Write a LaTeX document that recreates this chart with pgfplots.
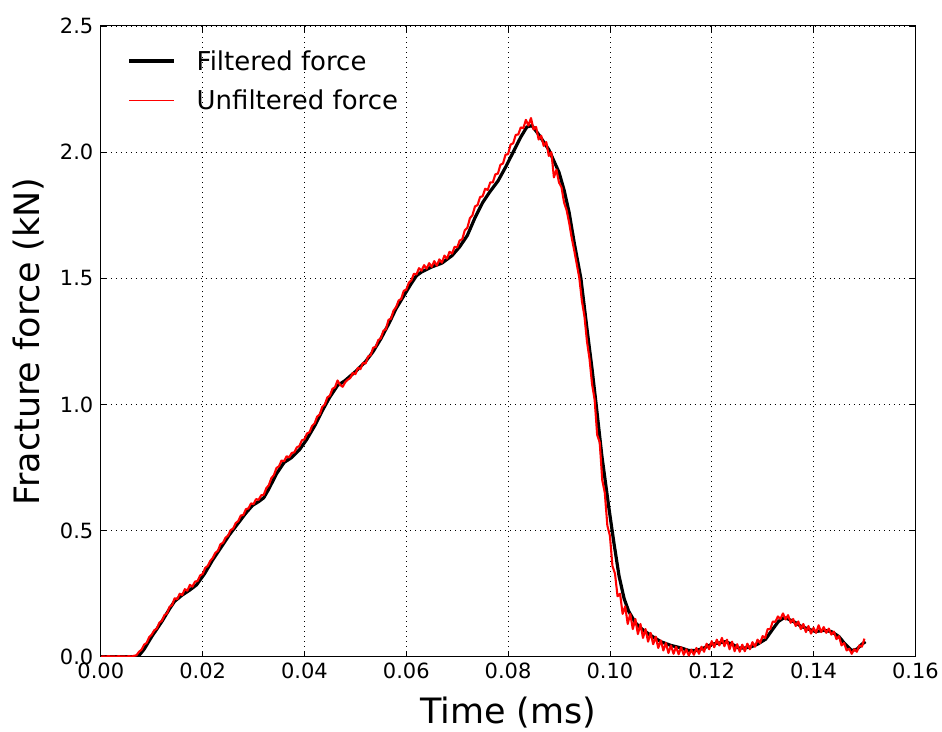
\documentclass[border=0pt]{standalone}
\usepackage{fontspec}
\setmainfont{DejaVu Sans}
\usepackage{pgfplots}
\pgfplotsset{compat=1.18}
\begin{document}
\begin{tikzpicture}
\begin{axis}[
  name=ax,
  scale only axis,
  width=816pt, height=632pt,
  xmin=0, xmax=0.16, ymin=0, ymax=2.5,
  xtick={0,0.02,0.04,0.06,0.08,0.10,0.12,0.14,0.16},
  ytick={0,0.5,1.0,1.5,2.0,2.5},
  scaled x ticks=false, scaled y ticks=false,
  xticklabel style={/pgf/number format/.cd, fixed, fixed zerofill, precision=2, assume math mode=true},
  yticklabel style={/pgf/number format/.cd, fixed, fixed zerofill, precision=1, assume math mode=true},
  tick label style={font=\fontsize{21}{25}\selectfont},
  xticklabel shift=3pt, yticklabel shift=4pt,
  tick align=inside, major tick length=6pt,
  tick style={black, line width=0.8pt},
  axis line style={black, line width=1.1pt},
  grid=major,
  major grid style={black, line width=0.7pt, dash pattern=on 1pt off 4pt},
  xlabel={Time (ms)}, ylabel={Fracture force (kN)},
  every axis x label/.style={at={(axis description cs:0.5,-0.106)}, anchor=base, font=\fontsize{35}{40}\selectfont},
  every axis y label/.style={at={(axis description cs:-0.0748,0.5)}, rotate=90, anchor=base, font=\fontsize{35}{40}\selectfont},
  legend cell align=left,
  legend style={draw=none, fill=none, at={(axis description cs:0.029,0.968)}, anchor=north west,
    font=\fontsize{26}{30}\selectfont, row sep=14pt, column sep=19pt,
    nodes={inner sep=2pt}},
  legend image code/.code={\draw[#1, line cap=butt] (0pt,0pt) -- (45pt,0pt);},
]
\addplot[black, line width=3.2pt, line join=round] coordinates {
(0,0) (0.0073,0) (0.0085,0.03) (0.010,0.08) (0.012,0.14) (0.0135,0.19) (0.0145,0.22)
(0.016,0.245) (0.0175,0.265) (0.0188,0.285) (0.0204,0.33) (0.022,0.385) (0.0235,0.43)
(0.0253,0.485) (0.027,0.53) (0.0285,0.57) (0.0298,0.60) (0.031,0.615) (0.032,0.63)
(0.033,0.665) (0.0345,0.725) (0.036,0.77) (0.0375,0.79) (0.039,0.82) (0.0404,0.86)
(0.042,0.915) (0.0435,0.975) (0.045,1.03) (0.0465,1.075) (0.048,1.095) (0.050,1.13)
(0.052,1.17) (0.0535,1.21) (0.055,1.26) (0.0567,1.325) (0.058,1.38) (0.0595,1.43)
(0.061,1.48) (0.062,1.51) (0.063,1.525) (0.065,1.545) (0.067,1.56) (0.069,1.59)
(0.0705,1.625) (0.072,1.67) (0.0735,1.74) (0.075,1.80) (0.0765,1.845) (0.078,1.885)
(0.0795,1.94) (0.081,2.00) (0.0825,2.06) (0.0837,2.10) (0.0847,2.105) (0.086,2.07)
(0.088,2.01) (0.090,1.92) (0.091,1.85) (0.092,1.76) (0.093,1.64) (0.0943,1.50)
(0.0955,1.30) (0.0965,1.14) (0.0973,1.00) (0.0984,0.80) (0.0998,0.59) (0.1008,0.45)
(0.1018,0.32) (0.1028,0.23) (0.1037,0.18) (0.1050,0.135) (0.1063,0.11) (0.108,0.085)
(0.110,0.06) (0.112,0.045) (0.114,0.035) (0.1155,0.025) (0.117,0.025) (0.1185,0.035)
(0.120,0.05) (0.1215,0.055) (0.1227,0.06) (0.124,0.05) (0.1253,0.035) (0.1265,0.035)
(0.1278,0.04) (0.129,0.05) (0.1306,0.07) (0.132,0.11) (0.1331,0.14) (0.1342,0.155)
(0.135,0.15) (0.1365,0.135) (0.1376,0.12) (0.139,0.11) (0.1404,0.10) (0.142,0.105)
(0.1435,0.10) (0.145,0.08) (0.146,0.055) (0.1475,0.025) (0.1485,0.03) (0.1495,0.05)
(0.1502,0.06)
};
\addlegendentry{Filtered force}
\addplot[red, line width=2.1pt, line join=round, legend image post style={line width=0.8pt}] coordinates {
(0.0000,0.000) (0.0005,0.002) (0.0010,0.000) (0.0015,0.003) (0.0020,0.001) (0.0025,0.002)
(0.0030,0.000) (0.0035,0.003) (0.0040,0.001) (0.0045,0.002) (0.0050,0.000) (0.0055,0.003)
(0.0060,0.001) (0.0065,0.004) (0.0070,0.006) (0.0075,0.020) (0.0080,0.028) (0.0085,0.048)
(0.0090,0.055) (0.0095,0.078) (0.0100,0.088) (0.0105,0.105) (0.0110,0.112) (0.0115,0.135)
(0.0120,0.143) (0.0125,0.165) (0.0130,0.172) (0.0135,0.198) (0.0140,0.205) (0.0145,0.232)
(0.0150,0.228) (0.0155,0.250) (0.0160,0.245) (0.0165,0.268) (0.0170,0.262) (0.0175,0.285)
(0.0180,0.278) (0.0185,0.298) (0.0190,0.300) (0.0195,0.322) (0.0200,0.328) (0.0205,0.352)
(0.0210,0.360) (0.0215,0.380) (0.0220,0.392) (0.0225,0.412) (0.0230,0.420) (0.0235,0.446)
(0.0240,0.452) (0.0245,0.472) (0.0250,0.480) (0.0255,0.502) (0.0260,0.508) (0.0265,0.530)
(0.0270,0.538) (0.0275,0.560) (0.0280,0.562) (0.0285,0.585) (0.0290,0.588) (0.0295,0.608)
(0.0300,0.605) (0.0305,0.625) (0.0310,0.622) (0.0315,0.640) (0.0320,0.642) (0.0325,0.668)
(0.0330,0.680) (0.0335,0.708) (0.0340,0.720) (0.0345,0.748) (0.0350,0.755) (0.0355,0.778)
(0.0360,0.775) (0.0365,0.795) (0.0370,0.790) (0.0375,0.808) (0.0380,0.810) (0.0385,0.830)
(0.0390,0.835) (0.0395,0.858) (0.0400,0.862) (0.0405,0.885) (0.0410,0.890) (0.0415,0.915)
(0.0420,0.925) (0.0425,0.952) (0.0430,0.960) (0.0435,0.990) (0.0440,1.000) (0.0445,1.028)
(0.0450,1.035) (0.0455,1.062) (0.0460,1.068) (0.0465,1.095) (0.0470,1.078) (0.0475,1.070)
(0.0480,1.088) (0.0485,1.098) (0.0490,1.105) (0.0495,1.125) (0.0500,1.120) (0.0505,1.145)
(0.0510,1.140) (0.0515,1.165) (0.0520,1.162) (0.0525,1.190) (0.0530,1.195) (0.0535,1.225)
(0.0540,1.228) (0.0545,1.255) (0.0550,1.262) (0.0555,1.292) (0.0560,1.298) (0.0565,1.335)
(0.0570,1.340) (0.0575,1.372) (0.0580,1.385) (0.0585,1.412) (0.0590,1.418) (0.0595,1.450)
(0.0600,1.455) (0.0605,1.482) (0.0610,1.492) (0.0615,1.518) (0.0620,1.515) (0.0625,1.540)
(0.0630,1.530) (0.0635,1.552) (0.0640,1.538) (0.0645,1.560) (0.0650,1.545) (0.0655,1.568)
(0.0660,1.550) (0.0665,1.575) (0.0670,1.562) (0.0675,1.590) (0.0680,1.578) (0.0685,1.605)
(0.0690,1.598) (0.0695,1.625) (0.0700,1.622) (0.0705,1.650) (0.0710,1.655) (0.0715,1.690)
(0.0720,1.700) (0.0725,1.738) (0.0730,1.750) (0.0735,1.785) (0.0740,1.790) (0.0745,1.822)
(0.0750,1.825) (0.0755,1.855) (0.0760,1.850) (0.0765,1.880) (0.0770,1.880) (0.0775,1.912)
(0.0780,1.915) (0.0785,1.950) (0.0790,1.955) (0.0795,1.990) (0.0800,1.992) (0.0805,2.030)
(0.0810,2.035) (0.0815,2.068) (0.0820,2.070) (0.0825,2.098) (0.0830,2.095) (0.0835,2.128)
(0.0840,2.105) (0.0845,2.135) (0.0850,2.090) (0.0855,2.100) (0.0860,2.050) (0.0865,2.065)
(0.0870,2.025) (0.0875,2.040) (0.0880,1.985) (0.0885,2.000) (0.0890,1.900) (0.0895,1.930)
(0.0900,1.880) (0.0905,1.860) (0.0910,1.800) (0.0915,1.770) (0.0920,1.720) (0.0925,1.660)
(0.0930,1.610) (0.0935,1.555) (0.0940,1.500) (0.0945,1.410) (0.0950,1.350) (0.0955,1.250)
(0.0960,1.180) (0.0965,1.080) (0.0970,1.020) (0.0975,0.880) (0.0980,0.850) (0.0985,0.700)
(0.0990,0.650) (0.0995,0.520) (0.1000,0.480) (0.1005,0.360) (0.1010,0.330) (0.1015,0.240)
(0.1020,0.250) (0.1025,0.170) (0.1030,0.200) (0.1035,0.130) (0.1040,0.170) (0.1045,0.110)
(0.1050,0.150) (0.1055,0.090) (0.1060,0.130) (0.1065,0.075) (0.1070,0.110) (0.1075,0.060)
(0.1080,0.095) (0.1085,0.050) (0.1090,0.080) (0.1095,0.035) (0.1100,0.065) (0.1105,0.025)
(0.1110,0.055) (0.1115,0.015) (0.1120,0.045) (0.1125,0.012) (0.1130,0.040) (0.1135,0.010)
(0.1140,0.038) (0.1145,0.008) (0.1150,0.030) (0.1155,0.005) (0.1160,0.028) (0.1165,0.008)
(0.1170,0.035) (0.1175,0.012) (0.1180,0.040) (0.1185,0.020) (0.1190,0.052) (0.1195,0.030)
(0.1200,0.062) (0.1205,0.038) (0.1210,0.068) (0.1215,0.045) (0.1220,0.075) (0.1225,0.042)
(0.1230,0.068) (0.1235,0.030) (0.1240,0.060) (0.1245,0.022) (0.1250,0.050) (0.1255,0.020)
(0.1260,0.048) (0.1265,0.022) (0.1270,0.052) (0.1275,0.030) (0.1280,0.058) (0.1285,0.040)
(0.1290,0.068) (0.1295,0.055) (0.1300,0.082) (0.1305,0.075) (0.1310,0.110) (0.1315,0.110)
(0.1320,0.140) (0.1325,0.138) (0.1330,0.160) (0.1335,0.150) (0.1340,0.172) (0.1345,0.148)
(0.1350,0.165) (0.1355,0.135) (0.1360,0.150) (0.1365,0.122) (0.1370,0.140) (0.1375,0.110)
(0.1380,0.130) (0.1385,0.098) (0.1390,0.122) (0.1395,0.092) (0.1400,0.115) (0.1405,0.095)
(0.1410,0.125) (0.1415,0.098) (0.1420,0.118) (0.1425,0.095) (0.1430,0.112) (0.1435,0.088)
(0.1440,0.100) (0.1445,0.070) (0.1450,0.082) (0.1455,0.045) (0.1460,0.055) (0.1465,0.025)
(0.1470,0.032) (0.1475,0.012) (0.1480,0.030) (0.1485,0.020) (0.1490,0.045) (0.1495,0.040)
(0.1500,0.072)
};
\addlegendentry{Unfiltered force}
\end{axis}
\path ([shift={(-101pt,-75pt)}]ax.south west) rectangle ([shift={(25pt,26pt)}]ax.north east);
\end{tikzpicture}
\end{document}
